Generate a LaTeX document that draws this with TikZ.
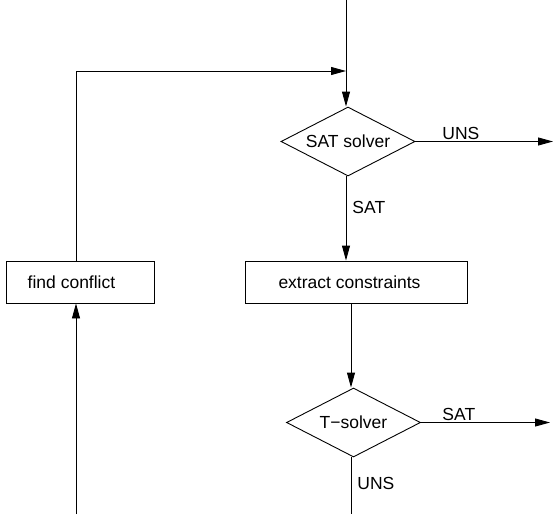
\documentclass[tikz,border=0pt]{standalone}
\usepackage{fontspec}
\setmainfont{Liberation Sans}
\usetikzlibrary{shapes.geometric,arrows.meta}
\begin{document}
\begin{tikzpicture}[x=1pt,y=-1pt,
  line width=0.9pt,
  every node/.style={font=\fontsize{17.5}{21}\selectfont},
  arr/.style={-{Triangle[length=15pt,width=8pt]}},
  dia/.style={draw,shape=diamond,inner sep=0pt,minimum width=134pt,minimum height=69pt},
  boxn/.style={draw,rectangle,inner sep=0pt,minimum height=42pt},
  lab/.style={anchor=base west,inner sep=0pt}]
\useasboundingbox (0,0) rectangle (554,514);
\coordinate (top) at (346,0);
\coordinate (merge) at (346,71);
\coordinate (bot) at (76,514);
\coordinate (uend) at (553,141.5);
\coordinate (send) at (550,422.5);
\coordinate (tbot) at (351,514);
\node[dia,label=center:SAT solver] (sat) at (348,141.5) {};
\node[boxn,minimum width=222pt,label={[xshift=-6.5pt]center:extract constraints}] (ext) at (356,282) {};
\node[boxn,minimum width=148pt,label={[xshift=-8.5pt]center:find conflict}] (find) at (80,282) {};
\node[dia,label=center:T−solver] (tsol) at (353.5,422.5) {};
\node[lab] (uns1) at (442,139) {UNS};
\node[lab] (sat1) at (352,213) {SAT};
\node[lab] (sat2) at (442,420) {SAT};
\node[lab] (uns2) at (357,489) {UNS};
% connectors
\draw[arr] (top) -- (top |- sat.north);
\draw[arr] (sat.east) -- (uend);
\draw[arr] (top |- sat.south) -- (top |- ext.north);
\draw[arr] (tbot |- ext.south) -- (tbot |- tsol.north);
\draw[arr] (tsol.east) -- (send);
\draw (tbot |- tsol.south) -- (tbot);
\draw[arr] (bot) -- (bot |- find.south);
\draw[arr] (bot |- find.north) -- (bot |- merge) -- (merge);
\end{tikzpicture}
\end{document}
